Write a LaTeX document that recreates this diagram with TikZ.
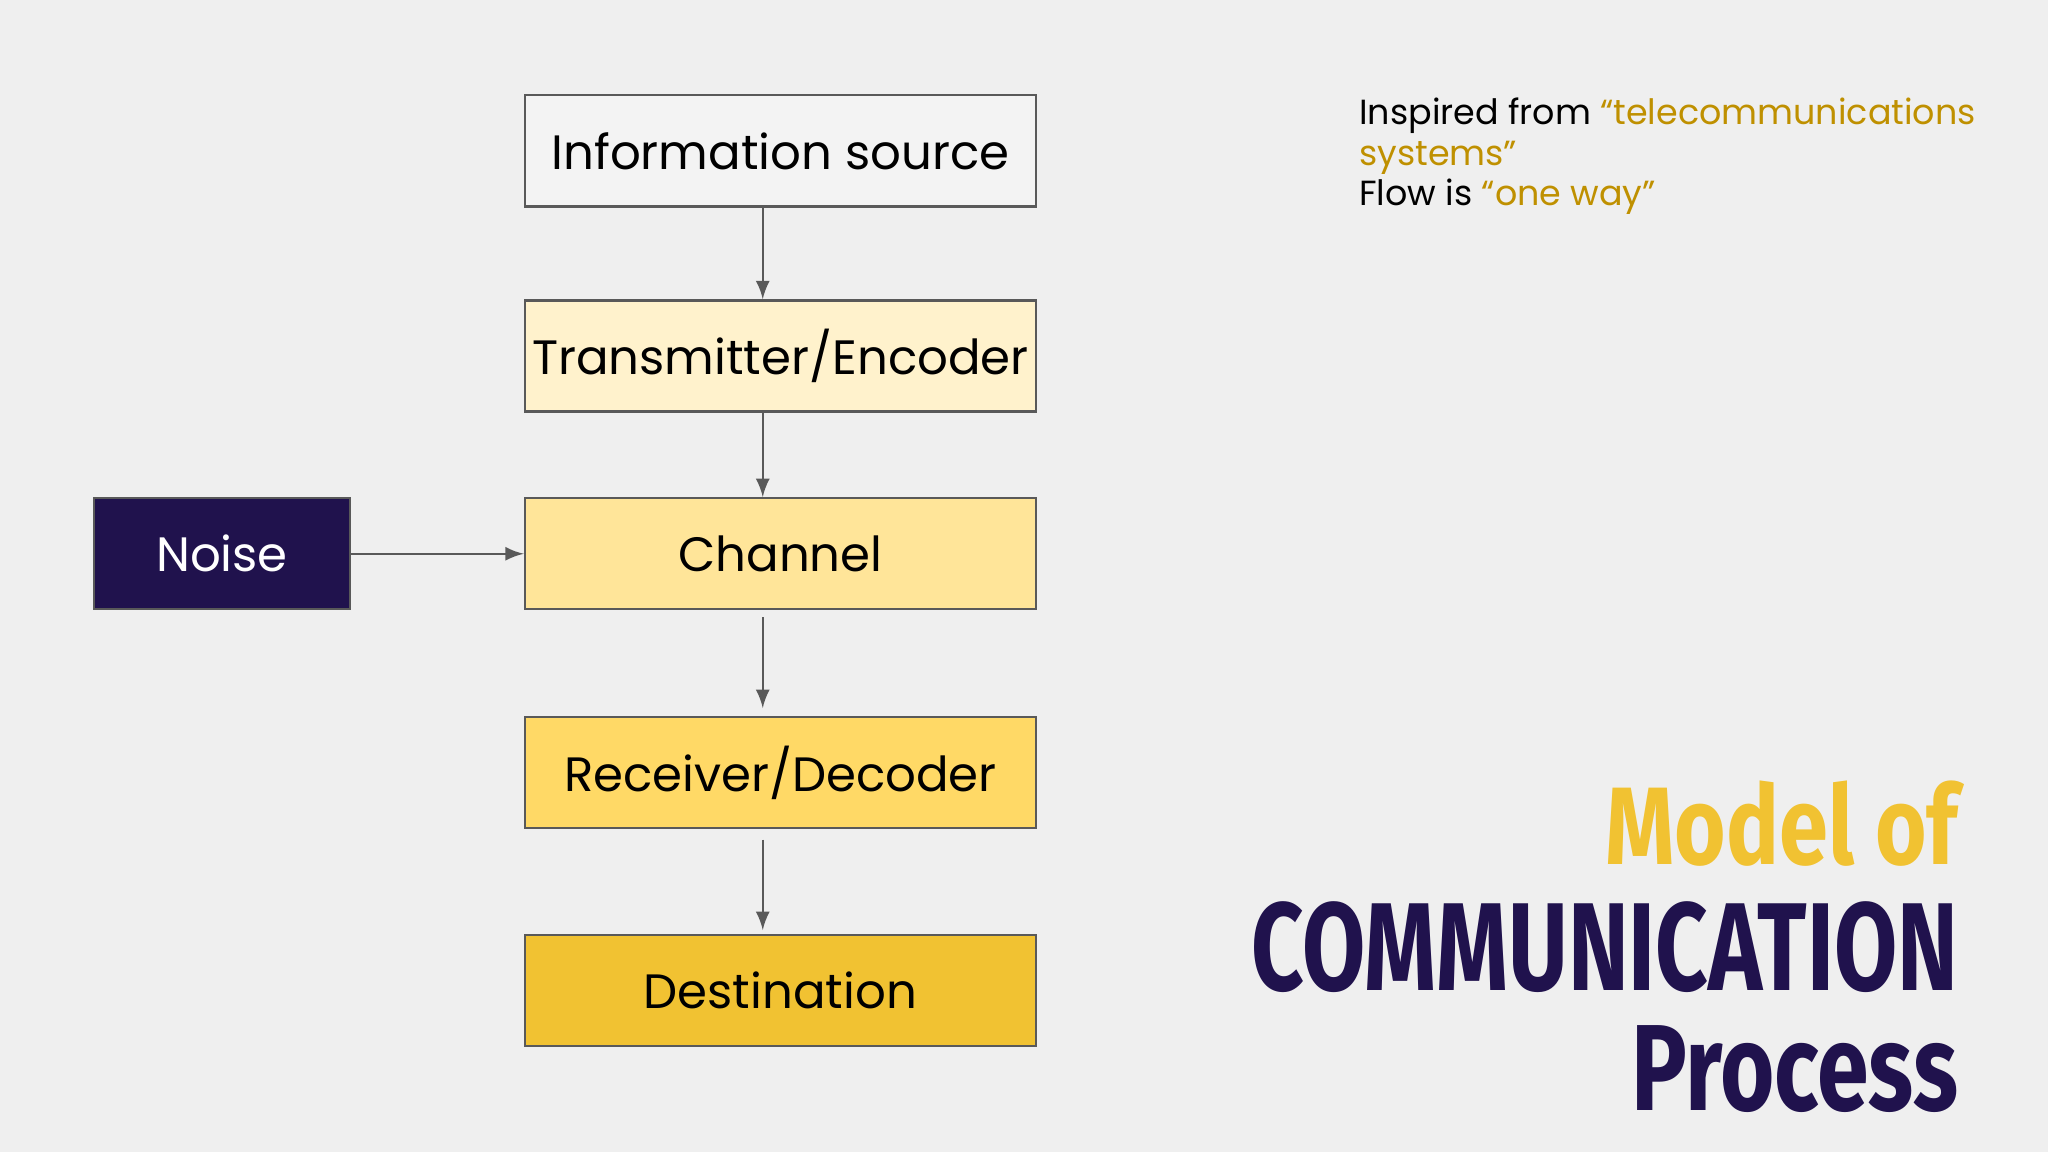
\documentclass[tikz,border=0pt]{standalone}
\usepackage{fontspec}
\setmainfont{Poppins}
\newfontfamily\titlefont{Fira Sans}[FakeStretch=0.72]
\usetikzlibrary{positioning}
\definecolor{bgcol}{HTML}{EFEFEF}
\definecolor{infocol}{HTML}{F3F3F3}
\definecolor{transcol}{HTML}{FFF2CC}
\definecolor{chancol}{HTML}{FFE599}
\definecolor{recvcol}{HTML}{FFD966}
\definecolor{destcol}{HTML}{F1C232}
\definecolor{noisecol}{HTML}{20124D}
\definecolor{quotecol}{HTML}{BF9000}
\tikzset{
  stage/.style={draw=black!65, line width=0.5pt, minimum width=3.91cm, minimum height=0.85cm,
    inner sep=0pt, font=\fontsize{10.5}{12}\selectfont},
  flow/.style={draw=black!65, line width=0.4pt, -latex}
}
\begin{document}
\begin{tikzpicture}[x=0.01cm,y=0.01cm]
  \fill[bgcol] (0,0) rectangle (1568,882);
  \useasboundingbox (0,0) rectangle (1568,882);

  % stages of the process, top to bottom
  \node[stage, fill=infocol] (info) at (597.5,766.5) {Information source};
  \node[stage, fill=transcol] (trans) at (597.5,609.5) {Transmitter/Encoder};
  \node[stage, fill=chancol] (chan) at (597.5,458) {Channel};
  \node[stage, fill=recvcol] (recv) at (597.5,290.5) {Receiver/Decoder};
  \node[stage, fill=destcol] (dest) at (597.5,123.5) {Destination};
  \node[stage, fill=noisecol, text=white, minimum width=1.96cm] (noise) at (170,458) {Noise};

  \draw[flow] ([xshift=-1.35mm]info.south) -- ([xshift=-1.35mm]trans.north);
  \draw[flow] ([xshift=-1.35mm]trans.south) -- ([xshift=-1.35mm]chan.north);
  \draw[flow] ([xshift=-1.35mm,yshift=-0.5mm]chan.south) -- ([xshift=-1.35mm,yshift=0.6mm]recv.north);
  \draw[flow] ([xshift=-1.35mm,yshift=-0.8mm]recv.south) -- ([xshift=-1.35mm,yshift=0.3mm]dest.north);
  \draw[flow] (noise.east) -- (chan.west);

  % note at the top right
  \node[anchor=north west, align=left, inner sep=0pt, font=\fontsize{7.6}{8.9}\selectfont] (note) at (1040,808)
    {Inspired from \textcolor{quotecol}{“telecommunications}\\
     \textcolor{quotecol}{systems”}\\
     Flow is \textcolor{quotecol}{“one way”}};

  % title
  \node[anchor=base east, inner sep=0pt, text=destcol, font=\titlefont\bfseries] (title1) at (1500,220)
    {\resizebox{2.70cm}{0.64cm}{Model of}};
  \node[anchor=base east, inner sep=0pt, text=noisecol, font=\titlefont\bfseries] (title2) at (1500,124)
    {\resizebox{5.41cm}{0.68cm}{COMMUNICATION}};
  \node[anchor=base east, inner sep=0pt, text=noisecol, font=\titlefont\bfseries] (title3) at (1500,32)
    {\resizebox{2.50cm}{0.65cm}{Process}};
\end{tikzpicture}
\end{document}
